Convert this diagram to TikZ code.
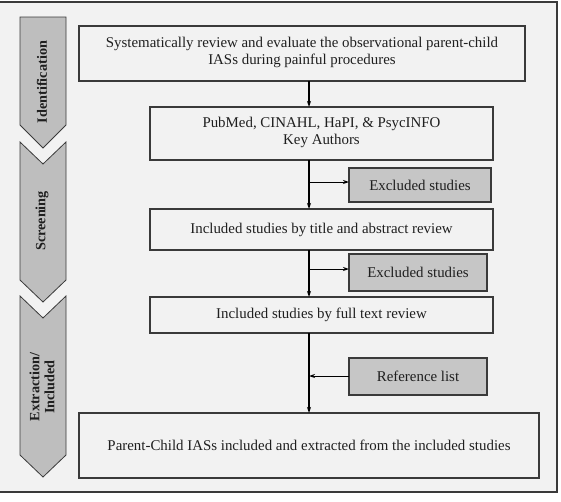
\documentclass[tikz,border=0pt]{standalone}
\usepackage{fontspec}
\setmainfont{Liberation Serif}
\usetikzlibrary{arrows.meta}
\definecolor{bg}{HTML}{F2F2F2}
\definecolor{graybox}{HTML}{C6C6C6}
\definecolor{chev}{HTML}{BEBEBE}
\definecolor{edge}{HTML}{3A3A3A}
\tikzset{
  whitebox/.style={draw=edge,line width=1.1pt,fill=bg},
  greybox/.style={draw=edge,line width=1.1pt,fill=graybox},
  chevron/.style={draw=edge,line width=0.8pt,fill=chev},
  flow/.style={draw=black,line width=1.3pt},
  tip/.style={-{Stealth[length=6pt,width=4pt]}},
  txt/.style={font=\fontsize{14.9}{17}\selectfont,align=center,text=black!88},
  lbl/.style={font=\bfseries\fontsize{14.2}{15}\selectfont,align=center,rotate=90,text=black!88}
}
\begin{document}
\begin{tikzpicture}[x=1pt,y=-1pt]
\useasboundingbox (0,0) rectangle (561,501);
\fill[white] (0,0) rectangle (561,501);
\draw[fill=bg,draw=edge,line width=1.2pt] (-3,2) rectangle (557,492);
% chevrons
\draw[chevron] (20,17) -- (66,17) -- (66,125) -- (43,148) -- (20,125) -- cycle;
\draw[chevron] (20,142) -- (43,164) -- (66,142) -- (66,280) -- (43,302) -- (20,280) -- cycle;
\draw[chevron] (20,296) -- (43,318) -- (66,296) -- (66,455) -- (43,477) -- (20,455) -- cycle;
\node[lbl] (l1) at (42,82) {Identification};
\node[lbl] (l2) at (42,221) {Screening};
\node[lbl] (l3) at (42,387) {Extraction/\\Included};
% boxes
\draw[whitebox] (79,26) rectangle (525,81);
\node[txt] (b1) at (302,52) {Systematically review and evaluate the observational parent-child\\IASs during painful procedures};
\draw[whitebox] (150,107) rectangle (493,160);
\node[txt] (b2) at (321.5,132) {PubMed, CINAHL, HaPI, \& PsycINFO\\Key Authors};
\draw[whitebox] (150,209) rectangle (493,250);
\node[txt] (b3) at (321.5,229.5) {Included studies by title and abstract review};
\draw[whitebox] (150,297) rectangle (493,333);
\node[txt] (b4) at (321.5,315) {Included studies by full text review};
\draw[whitebox] (79,413) rectangle (539,478);
\node[txt] (b5) at (309,445.5) {Parent-Child IASs included and extracted from the included studies};
\draw[greybox] (349,168) rectangle (491,202);
\node[txt] (e1) at (420,185) {Excluded studies};
\draw[greybox] (349,254) rectangle (487,291);
\node[txt] (e2) at (418,272.5) {Excluded studies};
\draw[greybox] (349,358) rectangle (487,395);
\node[txt] (r1) at (418,376.5) {Reference list};
% connectors
\coordinate (a1s) at (309,81);
\coordinate (a1e) at (309,107);
\coordinate (a2s) at (309,160);
\coordinate (a2e) at (309,209);
\coordinate (a3s) at (309,250);
\coordinate (a3e) at (309,297);
\coordinate (a4s) at (309,333);
\coordinate (a4e) at (309,413);
\coordinate (j1) at (309,182);
\coordinate (j2) at (309,269);
\coordinate (j3) at (309,376);
\coordinate (e1w) at (349,182);
\coordinate (e2w) at (349,269);
\coordinate (r1w) at (349,376);
\draw[flow,tip] (a1s) -- (a1e);
\draw[flow,tip] (a2s) -- (a2e);
\draw[flow,tip] (a3s) -- (a3e);
\draw[flow,tip] (a4s) -- (a4e);
\draw[flow,tip,line width=1pt] (j1) -- (e1w);
\draw[flow,tip,line width=1pt] (j2) -- (e2w);
\draw[flow,tip,line width=1pt] (r1w) -- (j3);
\end{tikzpicture}
\end{document}
